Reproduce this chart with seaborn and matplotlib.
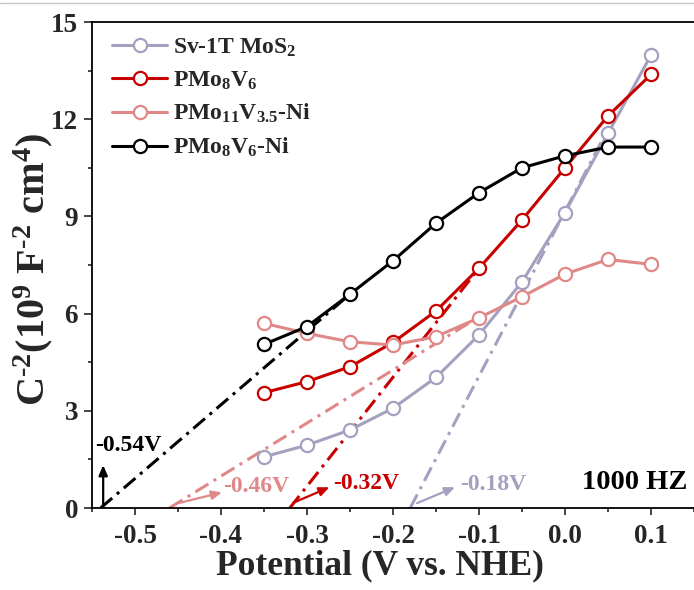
import numpy as np
import pandas as pd
import matplotlib
matplotlib.use("Agg")
import matplotlib.pyplot as plt
import seaborn as sns
from matplotlib.ticker import MultipleLocator
from matplotlib.lines import Line2D

# Mott-Schottky data measured at 1000 Hz
potential = [-0.35, -0.30, -0.25, -0.20, -0.15, -0.10, -0.05, 0.00, 0.05, 0.10]
sv_mos2 = [1.58, 1.94, 2.41, 3.08, 4.03, 5.34, 6.98, 9.12, 11.56, 13.98]
pmo8v6 = [3.56, 3.90, 4.36, 5.11, 6.08, 7.40, 8.89, 10.50, 12.10, 13.38]
pmo11v35_ni = [5.70, 5.39, 5.13, 5.03, 5.29, 5.87, 6.52, 7.22, 7.67, 7.52]
pmo8v6_ni = [5.05, 5.60, 6.60, 7.63, 8.79, 9.73, 10.50, 10.87, 11.14, 11.14]

series_names = [r"Sv-1T MoS$_2$", r"PMo$_8$V$_6$", r"PMo$_{11}$V$_{3.5}$-Ni", r"PMo$_8$V$_6$-Ni"]
series_values = [sv_mos2, pmo8v6, pmo11v35_ni, pmo8v6_ni]
colors = ["#A2A2C0", "#C80000", "#E08888", "#000000"]

# Linear fits: flat-band potential (x-intercept) and upper end of each fit line
fb_potential = [-0.18, -0.32, -0.46, -0.54]
fit_end_x = [0.05, -0.10, -0.10, -0.25]
fit_end_y = [11.7, 7.4, 5.9, 6.6]
fb_labels = ["-0.18V", "-0.32V", "-0.46V", "-0.54V"]

# annotation placement (arrow tail, arrow head, text anchor)
arrow_tail = [(-0.172, 0.15), (-0.316, 0.16), (-0.448, 0.16), (-0.537, 0.03)]
arrow_head = [(-0.128, 0.64), (-0.274, 0.64), (-0.399, 0.48), (-0.537, 1.32)]
text_pos = [(-0.122, 0.72), (-0.270, 0.76), (-0.398, 0.66), (-0.546, 1.92)]

sns.set_theme(style="ticks")
plt.rcParams["font.family"] = ["Liberation Serif", "DejaVu Serif"]
plt.rcParams["font.weight"] = "bold"
plt.rcParams["mathtext.fontset"] = "custom"
plt.rcParams["mathtext.rm"] = "Liberation Serif:bold"
plt.rcParams["mathtext.it"] = "Liberation Serif:bold"
plt.rcParams["mathtext.bf"] = "Liberation Serif:bold"
plt.rcParams["axes.unicode_minus"] = False

fig = plt.figure(figsize=(6.94, 5.90), dpi=100)
ax = fig.add_axes([92 / 694, 1 - 508 / 590, 1 - 92 / 694, (508 - 22) / 590])

for name, vals, col in zip(series_names, series_values, colors):
    df = pd.DataFrame({"Potential": potential, "C": vals})
    sns.lineplot(data=df, x="Potential", y="C", ax=ax, color=col, lw=2.2,
                 marker="o", markersize=9.5, markerfacecolor="white",
                 markeredgecolor=col, markeredgewidth=1.6, label=name,
                 zorder=3)

for x0, x1, y1, col in zip(fb_potential, fit_end_x, fit_end_y, colors):
    ax.plot([x0, x1], [0, y1], color=col, lw=2.2, ls=(0, (5, 2, 1, 2)), zorder=2)

for lab, tail, head, tp, col in zip(fb_labels, arrow_tail, arrow_head, text_pos, colors):
    ax.annotate("", xy=head, xytext=tail,
                arrowprops=dict(arrowstyle="-|>,head_length=0.5,head_width=0.22",
                                color=col, lw=1.6, shrinkA=0, shrinkB=0))
    ax.text(tp[0], tp[1], lab, color=col, fontsize=17, fontweight="bold",
            ha="left", va="center")

ax.text(0.142, 0.78, "1000 HZ", fontsize=20.5, fontweight="bold",
        ha="right", va="center", color="black")

ax.set_xlim(-0.55, 0.15)
ax.set_ylim(0, 15)
ax.xaxis.set_major_locator(MultipleLocator(0.1))
ax.xaxis.set_minor_locator(MultipleLocator(0.05))
ax.yaxis.set_major_locator(MultipleLocator(3))
ax.yaxis.set_minor_locator(MultipleLocator(1.5))
ax.set_xticks([-0.5, -0.4, -0.3, -0.2, -0.1, 0.0, 0.1])
ax.set_xticklabels(["-0.5", "-0.4", "-0.3", "-0.2", "-0.1", "0.0", "0.1"])
ax.tick_params(axis="both", which="major", labelsize=19.5, width=1.2, pad=4)
ax.tick_params(axis="x", which="major", pad=6.5)
ax.tick_params(axis="y", which="major", length=6)
ax.tick_params(axis="x", which="major", length=5)
ax.tick_params(axis="both", which="minor", length=3, width=1.2)
for t in ax.get_xticklabels() + ax.get_yticklabels():
    t.set_fontweight("bold")

ax.spines["right"].set_visible(False)
for s in ["left", "bottom", "top"]:
    ax.spines[s].set_linewidth(1.3)
    ax.spines[s].set_color("black")

ax.set_xlabel("Potential (V vs. NHE)", fontsize=25.5, fontweight="bold")
ax.set_ylabel(r"C$^{\text{-}2}$(10$^9$ F$^{\text{-}2}$ cm$^4$)", fontsize=29, fontweight="bold")
ax.xaxis.set_label_coords(0.478, -0.084)
ax.yaxis.set_label_coords(-0.062, 0.49)

leg = ax.legend(loc="upper left", frameon=False, fontsize=17, handlelength=2.33,
                handletextpad=0.25, labelspacing=0.45, borderaxespad=0.0,
                bbox_to_anchor=(0.018, 0.99))
for h in leg.legend_handles:
    h.set_markerfacecolor("white")

fig.add_artist(Line2D([0, 1], [1 - 3 / 590, 1 - 3 / 590], transform=fig.transFigure,
                      color="#c8c8c8", lw=1.0))

fig.savefig("out.png", dpi=100)
